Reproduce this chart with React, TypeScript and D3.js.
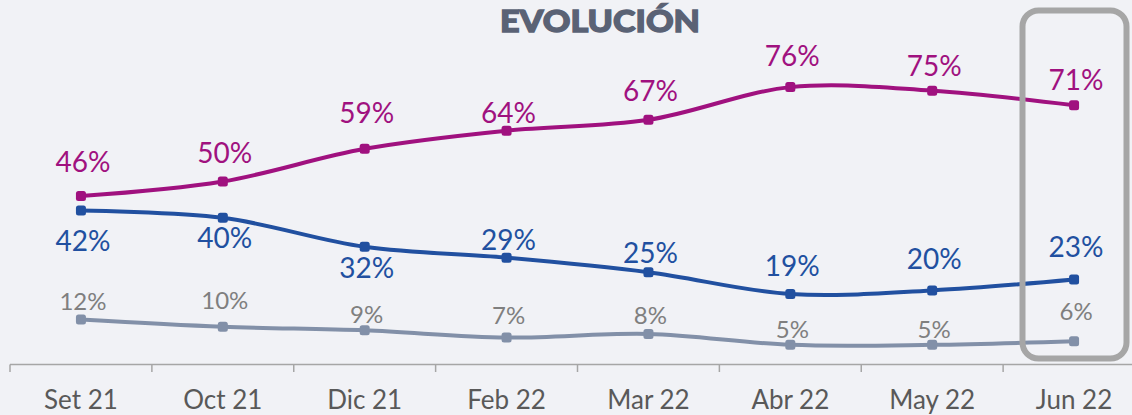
import React, { useRef, useEffect } from 'react';
import * as d3 from 'd3';

const months = ['Set 21', 'Oct 21', 'Dic 21', 'Feb 22', 'Mar 22', 'Abr 22', 'May 22', 'Jun 22'];
const magentaValues = [46, 50, 59, 64, 67, 76, 75, 71];
const blueValues = [42, 40, 32, 29, 25, 19, 20, 23];
const greyValues = [12, 10, 9, 7, 8, 5, 5, 6];

// desplazamiento vertical de cada etiqueta (línea base respecto al punto)
const magentaLabelDy = [-24, -19, -26, -8, -19, -21, -15, -15];
const blueLabelDy = [40, 30, 31, -8, -9, -18, -21, -23];
const greyLabelDy = [-9, -18, -7, -14, -10, -7, -7, -21];

const App = () => {
  const svgRef = useRef<SVGSVGElement>(null);

  useEffect(() => {
    const svg = d3.select(svgRef.current);
    svg.selectAll('*').remove();

    const width = 1132;
    const height = 415;
    const font = 'Lato, "Open Sans", sans-serif';

    svg.append('rect').attr('width', width).attr('height', height).attr('fill', '#f1f2f6');

    const x = d3.scaleBand().domain(months).range([10, 1145]).paddingInner(0).paddingOuter(0);
    const cx = (m: string) => (x(m) as number) + x.bandwidth() / 2;
    const y = d3.scaleLinear().domain([0, 80]).range([363, 72.6]);

    // Título
    svg.append('text')
      .attr('x', 600)
      .attr('y', 32)
      .attr('text-anchor', 'middle')
      .attr('font-family', font)
      .attr('font-weight', 900)
      .attr('font-size', 30.5)
      .attr('textLength', 200)
      .attr('lengthAdjust', 'spacingAndGlyphs')
      .attr('fill', '#5a6275')
      .attr('stroke', '#5a6275')
      .attr('stroke-width', 1.3)
      .text('EVOLUCIÓN');

    // Eje X
    svg.append('line')
      .attr('x1', 10).attr('x2', width)
      .attr('y1', 364.5).attr('y2', 364.5)
      .attr('stroke', '#a6a6a6').attr('stroke-width', 1.5);
    months.forEach(m => {
      svg.append('line')
        .attr('x1', x(m) as number).attr('x2', x(m) as number)
        .attr('y1', 364.5).attr('y2', 372)
        .attr('stroke', '#a6a6a6').attr('stroke-width', 1.5);
      svg.append('text')
        .attr('x', cx(m))
        .attr('y', 409)
        .attr('text-anchor', 'middle')
        .attr('font-family', font)
        .attr('font-size', 26)
        .attr('fill', '#595959')
        .text(m);
    });

    const line = d3.line<number>()
      .x((_, i) => cx(months[i]))
      .y(d => y(d))
      .curve(d3.curveCatmullRom.alpha(0));

    const series = [
      { values: greyValues, dy: greyLabelDy, color: '#8290a8', labelColor: '#7f7f7f', size: 24 },
      { values: blueValues, dy: blueLabelDy, color: '#2150a0', labelColor: '#2150a0', size: 28 },
      { values: magentaValues, dy: magentaLabelDy, color: '#a0117f', labelColor: '#a0117f', size: 28 },
    ];

    series.forEach(s => {
      svg.append('path')
        .datum(s.values)
        .attr('fill', 'none')
        .attr('stroke', s.color)
        .attr('stroke-width', 4)
        .attr('d', line);

      svg.selectAll(null)
        .data(s.values)
        .enter()
        .append('rect')
        .attr('x', (_, i) => cx(months[i]) - 5)
        .attr('y', d => y(d) - 5)
        .attr('width', 10)
        .attr('height', 10)
        .attr('rx', 2.5)
        .attr('fill', s.color);

      svg.selectAll(null)
        .data(s.values)
        .enter()
        .append('text')
        .attr('x', (_, i) => cx(months[i]) + 2)
        .attr('y', (d, i) => y(d) + s.dy[i])
        .attr('text-anchor', 'middle')
        .attr('font-family', font)
        .attr('font-size', s.size)
        .attr('fill', s.labelColor)
        .text(d => `${d}%`);
    });

    // Recuadro del último mes
    svg.append('rect')
      .attr('x', 1022.5).attr('y', 10.5)
      .attr('width', 104).attr('height', 348)
      .attr('rx', 16)
      .attr('fill', 'none')
      .attr('stroke', '#a6a6a6')
      .attr('stroke-width', 6);
  }, []);

  return (
    <div style={{ position: 'fixed', top: 0, left: 0 }}>
      <svg ref={svgRef} width="1132" height="415" style={{ display: 'block' }}></svg>
    </div>
  );
};

export default App;
